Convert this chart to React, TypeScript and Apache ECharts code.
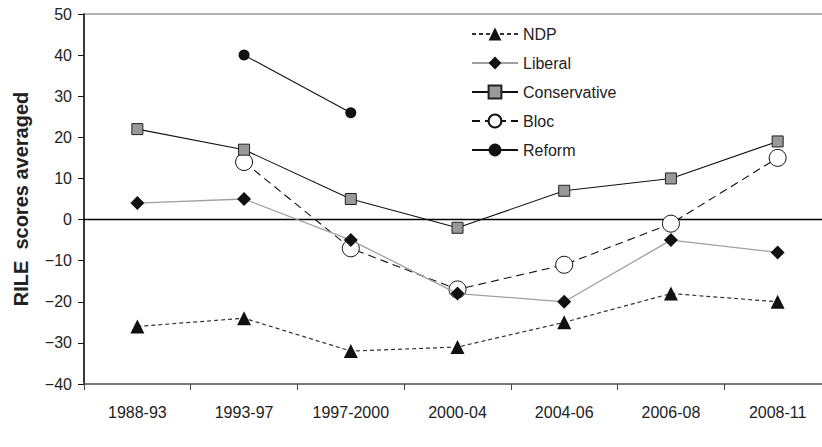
import React, { useEffect, useRef } from "react";
import * as echarts from "echarts";

const categories = ["1988-93", "1993-97", "1997-2000", "2000-04", "2004-06", "2006-08", "2008-11"];
const ndp = [-26, -24, -32, -31, -25, -18, -20];
const liberal = [4, 5, -5, -18, -20, -5, -8];
const conservative = [22, 17, 5, -2, 7, 10, 19];
const bloc = [null, 14, -7, -17, -11, -1, 15];
const reform = [null, 40, 26, null, null, null, null];
const legendNames = ["NDP", "Liberal", "Conservative", "Bloc", "Reform"];

const FONT = "Liberation Sans, Arial, sans-serif";

export default function App() {
  const ref = useRef<HTMLDivElement>(null);
  useEffect(() => {
    if (!ref.current) return;
    const chart = echarts.init(ref.current, null, { renderer: "svg" });
    chart.setOption({
      animation: false,
      backgroundColor: "#fff",
      textStyle: { fontFamily: FONT },
      grid: {
        left: 84,
        top: 14,
        bottom: 63,
        width: 747,
        containLabel: false,
        outerBoundsMode: "none",
        show: true,
        borderColor: "#666",
        borderWidth: 1,
        backgroundColor: "transparent",
      },
      legend: {
        data: legendNames,
        orient: "vertical",
        left: 471,
        top: 26,
        padding: 0,
        itemWidth: 46,
        itemHeight: 16,
        itemGap: 13,
        textStyle: { fontSize: 16, color: "#222", fontFamily: FONT },
      },
      xAxis: {
        type: "category",
        data: categories,
        boundaryGap: true,
        axisLine: { show: true, onZero: false, lineStyle: { color: "#666", width: 1.5 } },
        axisTick: { show: true, length: 6, lineStyle: { color: "#444" } },
        axisLabel: { fontSize: 16, color: "#222", margin: 20, fontFamily: FONT },
        splitLine: { show: false },
      },
      yAxis: {
        type: "value",
        min: -40,
        max: 50,
        interval: 10,
        name: "RILE  scores averaged",
        nameLocation: "middle",
        nameRotate: 90,
        nameGap: 53,
        nameTextStyle: { fontSize: 20, fontWeight: "bold", color: "#222", fontFamily: FONT },
        axisLine: { show: true, lineStyle: { color: "#111", width: 1.5 } },
        axisTick: { show: true, length: 6, lineStyle: { color: "#111" } },
        axisLabel: {
          fontSize: 16,
          color: "#222",
          margin: 12,
          fontFamily: FONT,
          formatter: (v: number) => String(v).replace("-", "\u2212"),
        },
        splitLine: { show: false },
      },
      series: [
        {
          name: "NDP",
          type: "line",
          data: ndp,
          symbol: "triangle",
          symbolSize: 14,
          lineStyle: { color: "#333", width: 1.2, type: [4, 3] },
          itemStyle: { color: "#111", borderColor: "#111", borderWidth: 0 },
          z: 3,
        },
        {
          name: "Liberal",
          type: "line",
          data: liberal,
          symbol: "diamond",
          symbolSize: 14,
          lineStyle: { color: "#a0a0a0", width: 1.3, type: "solid" },
          itemStyle: { color: "#111", borderColor: "#111", borderWidth: 0 },
          z: 3,
        },
        {
          name: "Conservative",
          type: "line",
          data: conservative,
          symbol: "rect",
          symbolSize: 11,
          lineStyle: { color: "#111", width: 1.1, type: "solid" },
          itemStyle: { color: "#999", borderColor: "#222", borderWidth: 1 },
          z: 3,
        },
        {
          name: "Bloc",
          type: "line",
          data: bloc,
          symbol: "circle",
          symbolSize: 17,
          connectNulls: false,
          lineStyle: { color: "#111", width: 1.1, type: [8, 5] },
          itemStyle: { color: "#fff", borderColor: "#111", borderWidth: 1 },
          z: 2,
          markLine: {
            silent: true,
            symbol: "none",
            z: 1,
            label: { show: false },
            lineStyle: { color: "#000", width: 1.3, type: "solid" },
            data: [{ yAxis: 0 }],
          },
        },
        {
          name: "Reform",
          type: "line",
          data: reform,
          symbol: "circle",
          symbolSize: 11,
          connectNulls: false,
          lineStyle: { color: "#111", width: 1.1, type: "solid" },
          itemStyle: { color: "#111", borderColor: "#111", borderWidth: 0 },
          z: 3,
        },
      ],
    });
    return () => chart.dispose();
  }, []);
  return <div ref={ref} style={{ width: 822, height: 447, position: "absolute", left: 0, top: 0 }} />;
}
